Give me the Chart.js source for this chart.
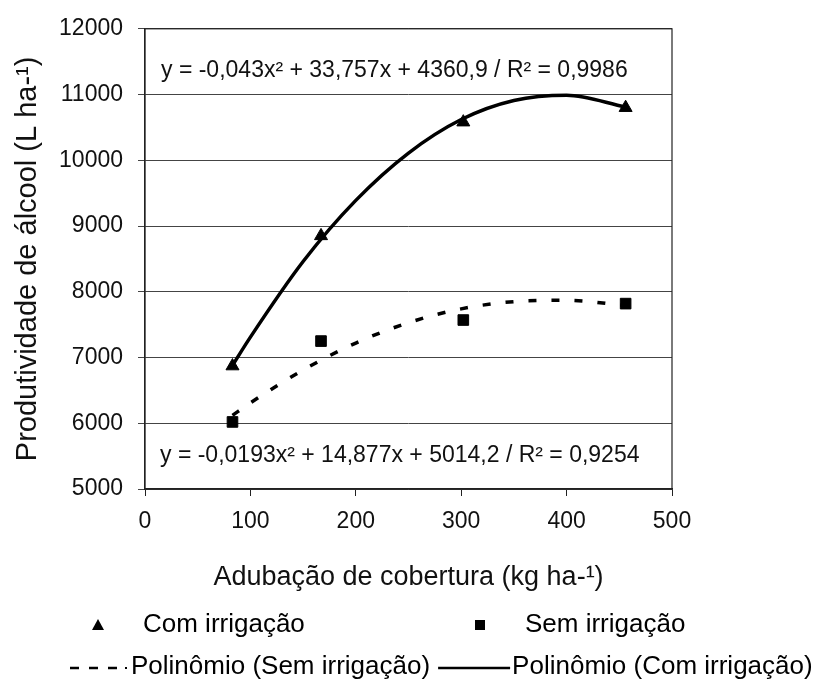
<!DOCTYPE html>
<html>
<head>
<meta charset="utf-8">
<script src="https://cdn.jsdelivr.net/npm/chart.js@4"></script>
<style>
  html, body { margin: 0; padding: 0; background: #fff; }
  #wrap { width: 820px; height: 679px; }
</style>
</head>
<body>
<div id="wrap"><canvas id="chart" width="820" height="679"></canvas></div>
<script>
// adubação de cobertura (kg/ha) e produtividade medida
const doses = [83, 167, 302, 456];
const comIrrigacao = [6870, 8850, 10580, 10800];
const semIrrigacao = [6020, 7250, 7570, 7820];

// pontos lidos sobre as curvas de tendência
const curvaX = [83, 100, 150, 200, 250, 300, 350, 400, 456];
const curvaCom = [6880, 7310, 8460, 9390, 10110, 10620, 10910, 10990, 10810];
const curvaSem = [6120, 6310, 6810, 7220, 7530, 7740, 7850, 7870, 7790];

const eqCom = "y = -0,043x² + 33,757x + 4360,9 / R² = 0,9986";
const eqSem = "y = -0,0193x² + 14,877x + 5014,2 / R² = 0,9254";

const FONT = "'Liberation Sans', Arial, sans-serif";

function pares(xs, ys) {
  return xs.map((x, i) => ({ x: x, y: ys[i] }));
}

// moldura, equações e legenda
const extras = {
  id: "extras",
  afterDatasetsDraw(chart) {
    const ctx = chart.ctx;
    const a = chart.chartArea;
    ctx.save();
    ctx.strokeStyle = "#222";
    ctx.lineWidth = 1.2;
    ctx.strokeRect(a.left, a.top, a.right - a.left, a.bottom - a.top);

    ctx.fillStyle = "#111";
    ctx.font = "23px " + FONT;
    ctx.textAlign = "left";
    ctx.textBaseline = "middle";
    ctx.fillText(eqCom, a.left + 16, a.top + 42);
    ctx.fillText(eqSem, a.left + 15, a.bottom - 33);

    // legenda
    ctx.font = "26px " + FONT;
    const ds = chart.data.datasets;
    const r1 = 625, r2 = 667;
    ctx.fillStyle = "#000";
    // triângulo
    ctx.beginPath();
    ctx.moveTo(98, r1 - 6);
    ctx.lineTo(104, r1 + 5);
    ctx.lineTo(92, r1 + 5);
    ctx.closePath();
    ctx.fill();
    ctx.fillText(ds[0].label, 143, r1);
    // quadrado
    ctx.fillRect(475, r1 - 5, 10, 10);
    ctx.fillText(ds[1].label, 525, r1);
    // linha tracejada
    ctx.strokeStyle = "#000";
    ctx.lineWidth = 2.5;
    ctx.setLineDash([9, 10]);
    ctx.beginPath();
    ctx.moveTo(70, r2 + 1);
    ctx.lineTo(118, r2 + 1);
    ctx.stroke();
    ctx.setLineDash([]);
    ctx.fillRect(125, r2, 2, 2);
    const x2 = 131;
    ctx.fillText(ds[2].label, x2, r2);
    const fim = x2 + ctx.measureText(ds[2].label).width;
    ctx.beginPath();
    ctx.moveTo(fim + 8, r2 + 1);
    ctx.lineTo(fim + 80, r2 + 1);
    ctx.stroke();
    ctx.fillText(ds[3].label, fim + 82, r2);
    ctx.restore();
  }
};

const ctx = document.getElementById("chart").getContext("2d");
new Chart(ctx, {
  type: "scatter",
  data: {
    datasets: [
      {
        label: "Com irrigação",
        data: pares(doses, comIrrigacao),
        pointStyle: "triangle",
        pointRadius: 7.5,
        backgroundColor: "#000",
        borderColor: "#000",
        showLine: false,
        order: 0,
      },
      {
        label: "Sem irrigação",
        data: pares(doses, semIrrigacao),
        pointStyle: "rect",
        pointRadius: 7.5,
        backgroundColor: "#000",
        borderColor: "#000",
        showLine: false,
        order: 0,
      },
      {
        label: "Polinômio (Sem irrigação)",
        data: pares(curvaX, curvaSem),
        showLine: true,
        pointRadius: 0,
        borderColor: "#000",
        borderWidth: 3.5,
        borderDash: [8, 15],
        cubicInterpolationMode: "monotone",
        order: 1,
      },
      {
        label: "Polinômio (Com irrigação)",
        data: pares(curvaX, curvaCom),
        showLine: true,
        pointRadius: 0,
        borderColor: "#000",
        borderWidth: 3.5,
        cubicInterpolationMode: "monotone",
        order: 1,
      },
    ],
  },
  options: {
    responsive: false,
    animation: false,
    layout: { padding: { left: 11, top: 25, right: 148, bottom: 85 } },
    plugins: {
      legend: { display: false },
      tooltip: { enabled: false },
    },
    scales: {
      x: {
        type: "linear",
        min: 0,
        max: 500,
        ticks: {
          stepSize: 100,
          color: "#111",
          font: { family: FONT, size: 23 },
          padding: 12,
        },
        grid: { drawOnChartArea: false, drawTicks: true, tickLength: 7, color: "#222" },
        border: { color: "#222", width: 1.2 },
        title: {
          display: true,
          text: "Adubação de cobertura (kg ha-¹)",
          color: "#111",
          font: { family: FONT, size: 27 },
          padding: 0,
        },
        afterFit(scale) { scale.height = 105; },
      },
      y: {
        min: 5000,
        max: 12000,
        ticks: {
          stepSize: 1000,
          color: "#111",
          font: { family: FONT, size: 23 },
          padding: 15,
          callback: (v) => String(v),
        },
        grid: { color: "#444", lineWidth: 1, tickLength: 7 },
        border: { color: "#222", width: 1.2 },
        title: {
          display: true,
          text: "Produtividade de álcool (L ha-¹)",
          color: "#111",
          font: { family: FONT, size: 29 },
          padding: 0,
        },
        afterFit(scale) { scale.width = 134; },
      },
    },
  },
  plugins: [extras],
});
</script>
</body>
</html>
